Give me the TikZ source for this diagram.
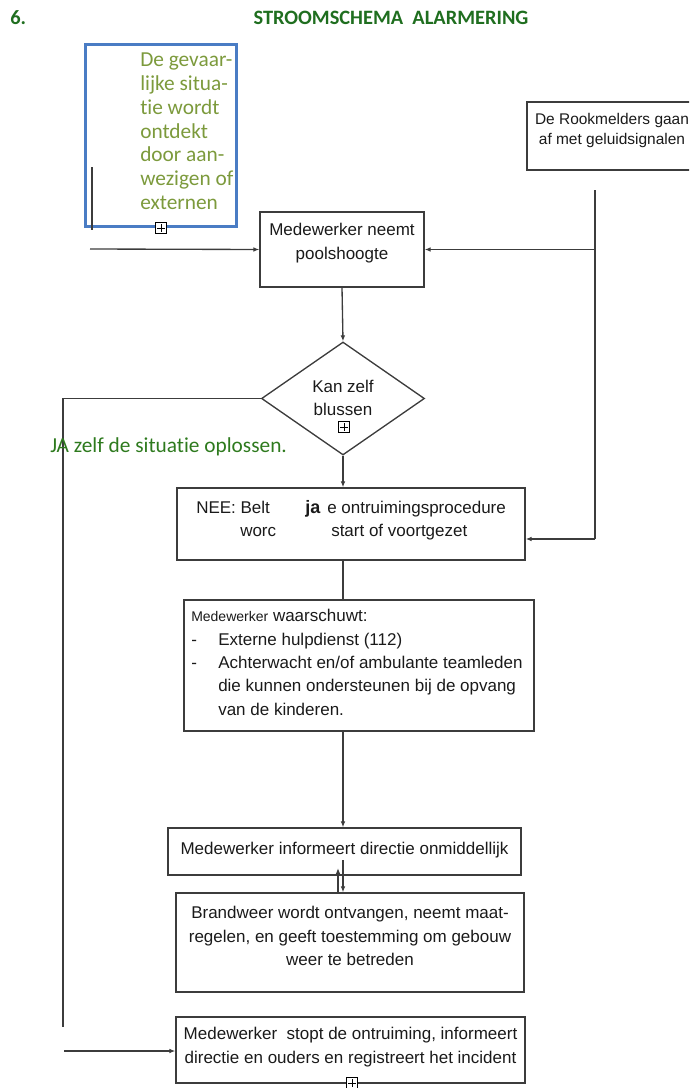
\documentclass[tikz,border=0pt]{standalone}
\usepackage{fontspec}
\setmainfont{Liberation Sans}
\newfontfamily\groenfont[Ligatures=NoCommon]{Carlito}
\usetikzlibrary{shapes.geometric,arrows.meta}
\definecolor{lijn}{HTML}{3C3C3C}
\definecolor{tekst}{HTML}{1A1A1A}
\definecolor{titelgroen}{HTML}{1F6E1F}
\definecolor{jagroen}{HTML}{2E7A1E}
\definecolor{olijf}{HTML}{7C9A3C}
\definecolor{kaderblauw}{HTML}{4A7CC4}

\begin{document}
\begin{tikzpicture}[x=0.75pt,y=-0.75pt,
  doos/.style={draw=lijn, line width=1pt, rectangle, inner sep=0pt},
  txt/.style={text=tekst, font=\fontsize{12.75}{17.6}\selectfont, align=center, inner sep=0pt},
  groentxt/.style={font=\groenfont\fontsize{16}{17.8}\selectfont, inner sep=0pt},
  pijl/.style={draw=lijn, line width=1pt, -{Latex[length=4.5pt,width=3.5pt]}},
  lijntje/.style={draw=lijn, line width=1pt},
  plusje/.style={draw=black, fill=white, line width=0.6pt, minimum size=8pt, inner sep=0pt,
    path picture={\draw[line width=0.6pt] ([yshift=-1pt]path picture bounding box.north) -- ([yshift=1pt]path picture bounding box.south)
      ([xshift=1pt]path picture bounding box.west) -- ([xshift=-1pt]path picture bounding box.east);}}]
\useasboundingbox (0,0) rectangle (689,1088);
\clip (0,0) rectangle (689,1088);
% Titel
\node[anchor=base west, font=\groenfont\bfseries\fontsize{15.3}{18}\selectfont, text=titelgroen, inner sep=0pt] (nummer) at (10,25) {6.};
\node[anchor=base, font=\groenfont\bfseries\fontsize{15.3}{18}\selectfont, text=titelgroen, inner sep=0pt] (titel) at (391,25) {STROOMSCHEMA\ \ ALARMERING};
% Blauwe kader
\node[draw=kaderblauw, line width=2.25pt, minimum width=113.25pt, minimum height=136.5pt, inner sep=0pt] (kader) at (161,135.5) {};
\node[groentxt, text=olijf, align=left, anchor=north west] (kaderT) at (140,53) {De gevaar-\\lijke situa-\\tie wordt\\ontdekt\\door aan-\\wezigen of\\externen};
% Dozen
\node[doos, minimum width=123pt, minimum height=56.25pt] (pool) at (342,249.5) {};
\node[txt] (poolT) at (342,243) {Medewerker neemt\\poolshoogte};
\node[doos, minimum width=127.5pt, minimum height=51pt] (rook) at (612,136) {};
\node[txt, font=\fontsize{11.6}{15}\selectfont] (rookT) at (612,131) {De Rookmelders gaan\\af met geluidsignalen};
\node[draw=lijn, line width=1pt, shape=diamond, aspect=1.44, minimum width=122.25pt, minimum height=84.75pt, inner sep=0pt] (vraag) at (343,398.5) {};
\node[txt] (vraagT) at (343,398) {Kan zelf\\blussen};
\node[doos, minimum width=261pt, minimum height=54pt] (nee) at (351,524) {};
\node[txt, anchor=base west] (neeA) at (196,513) {NEE: Belt};
\node[txt, anchor=base west, font=\bfseries\fontsize{13.5}{17.6}\selectfont] (neeB) at (305,513) {ja};
\node[txt, anchor=base west] (neeC) at (327,513) {e ontruimingsprocedure};
\node[txt, anchor=base west] (neeD) at (240,536) {worc};
\node[txt, anchor=base west] (neeE) at (331,536) {start of voortgezet};
\node[doos, minimum width=262.5pt, minimum height=98.25pt] (waar) at (359,665.5) {};
\node[txt, align=left, anchor=north west] (waarT) at (191,609) {{\fontsize{10.5}{17.6}\selectfont Medewerker} waarschuwt:\\
  \makebox[20.25pt][l]{-}Externe hulpdienst (112)\\
  \makebox[20.25pt][l]{-}Achterwacht en/of ambulante teamleden\\
  \hspace*{20.25pt}die kunnen ondersteunen bij de opvang\\
  \hspace*{20.25pt}van de kinderen.};
\node[doos, minimum width=264.75pt, minimum height=35.25pt] (info) at (344.5,851.5) {};
\node[txt] (infoT) at (344.5,850) {Medewerker informeert directie onmiddellijk};
\node[doos, minimum width=261pt, minimum height=74.25pt] (brand) at (350,942.5) {};
\node[txt] (brandT) at (350,936) {Brandweer wordt ontvangen, neemt maat-\\regelen, en geeft toestemming om gebouw\\weer te betreden};
\node[doos, minimum width=261.75pt, minimum height=49.5pt] (eind) at (350.5,1050) {};
\node[txt] (eindT) at (350.5,1047) {Medewerker\ \ stopt de ontruiming, informeert\\directie en ouders en registreert het incident};
% Verbindingen
\coordinate (kaderLijnBoven) at (92,167);
\coordinate (kaderLijnOnder) at (92,230);
\draw[lijntje] (kaderLijnBoven) -- (kaderLijnOnder);
\coordinate (invoer) at (90,249);
\draw[pijl] (invoer) -- (pool.west);
\coordinate (rookBoven) at (595,190);
\coordinate (rookOnder) at (595,539);
\draw[lijntje] (rookBoven) -- (rookOnder);
\draw[pijl] (rookBoven |- pool.east) -- (pool.east);
\draw[pijl] (rookOnder) -- (rookOnder -| nee.east);
\draw[pijl] (pool.south) -- (vraag.north);
\coordinate (jaOnder) at (63,1027);
\draw[lijntje] (vraag.west) -- (vraag.west -| jaOnder) -- (jaOnder);
\draw[pijl] (vraag.south) -- (vraag.south |- nee.north);
\draw[lijntje] (vraag.south |- nee.south) -- (vraag.south |- waar.north);
\draw[pijl] (vraag.south |- waar.south) -- (vraag.south |- info.north);
\coordinate (terug) at (338,868);
\coordinate (verder) at (343,860);
\draw[pijl] (terug |- brand.north) -- (terug);
\draw[pijl] (verder) -- (verder |- brand.north);
\coordinate (jaStart) at (64,1051);
\draw[pijl] (jaStart) -- (jaStart -| eind.west);
% Tekst bij ja
\node[groentxt, text=jagroen, anchor=base west] (jaT) at (50,452) {JA zelf de situatie oplossen.};
% Plustekens
\node[plusje] (plus1) at (161,228) {};
\node[plusje] (plus2) at (344,427) {};
\node[plusje] (plus3) at (352,1083) {};
\end{tikzpicture}
\end{document}
